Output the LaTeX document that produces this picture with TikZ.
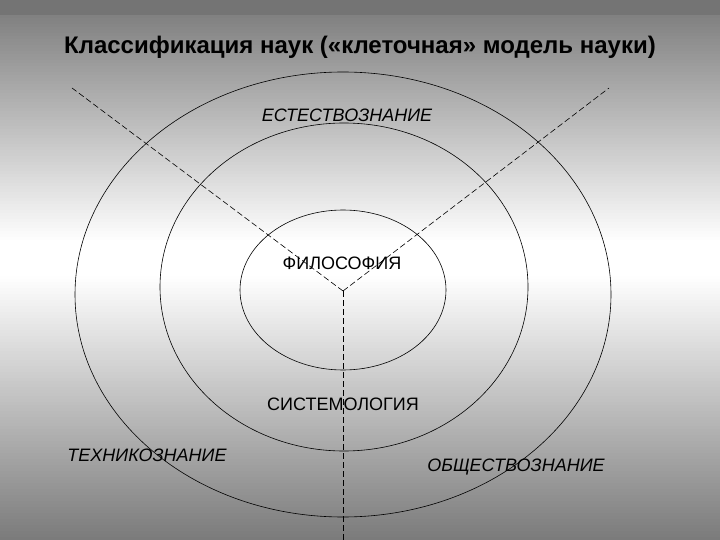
\documentclass[tikz,border=0pt]{standalone}
\usepackage{fontspec}
\setmainfont{Liberation Sans}
\begin{document}
\begin{tikzpicture}[x=1pt,y=-1pt,
  ring/.style={draw=black, line width=0.6pt},
  axisline/.style={draw=black, line width=0.6pt, dash pattern=on 6pt off 3pt},
  lbl/.style={font=\fontsize{18}{20}\selectfont\itshape, inner sep=0pt},
  lblup/.style={font=\fontsize{18}{20}\selectfont, inner sep=0pt}]
\useasboundingbox (0,0) rectangle (720,540);
% background: vertical gray-white-gray gradient in strips
\foreach \i in {0,...,179}{
  \pgfmathsetmacro{\yy}{\i*3+1.5}
  \pgfmathsetmacro{\lv}{\yy<242 ? 0.47+0.53*(\yy/242) : (\yy<276 ? 1 : 1-0.52*((\yy-276)/264))}
  \pgfmathsetmacro{\lvv}{\yy<15 ? 0.455 : \lv}
  \definecolor{bgc}{gray}{\lvv}
  \fill[bgc] (0,\i*3-0.2) rectangle (720,\i*3+3.2);
}
% ellipses
\draw[ring] (343,294.5) ellipse [x radius=268pt, y radius=222.5pt];
\draw[ring] (344,287) ellipse [x radius=184pt, y radius=164pt];
\draw[ring] (343,290) ellipse [x radius=103pt, y radius=80pt];
% axes
\coordinate (c) at (343,291);
\coordinate (ul) at (72,88);
\coordinate (ur) at (609,88);
\coordinate (dn) at (343,540);
\draw[axisline] (c) -- (ul);
\draw[axisline] (c) -- (ur);
\draw[axisline] (c) -- (dn);
% texts
\node[font=\fontsize{24}{26}\selectfont\bfseries, inner sep=0pt] (title) at (360,47) {Классификация наук («клеточная» модель науки)};
\node[lbl] (nat) at (347,115) {ЕСТЕСТВОЗНАНИЕ};
\node[lblup] (phil) at (342,263) {ФИЛОСОФИЯ};
\node[lblup] (sys) at (343,404) {СИСТЕМОЛОГИЯ};
\node[lbl] (tech) at (147,455) {ТЕХНИКОЗНАНИЕ};
\node[lbl] (soc) at (516,467) {ОБЩЕСТВОЗНАНИЕ};
\end{tikzpicture}
\end{document}
